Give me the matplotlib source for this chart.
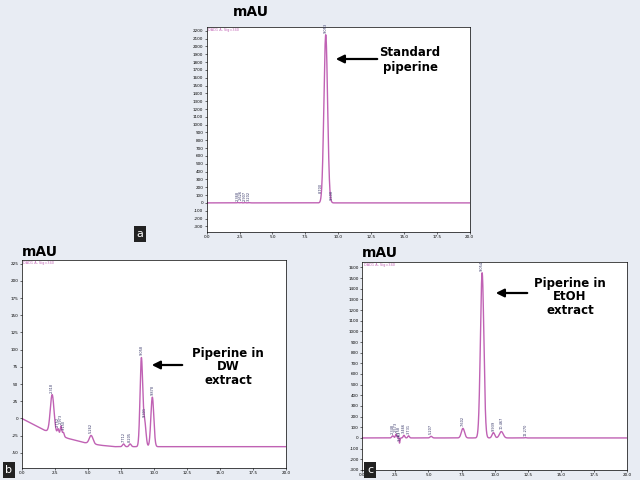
import numpy as np
import matplotlib.pyplot as plt

# peak tables: retention time (min), height (mAU), sigma (min)
a_rt = [2.35, 2.6, 2.9, 3.2, 8.7, 9.05, 9.5]
a_h = [4, 5, 4, 3, 2, 2150, 3]
a_sig = [0.05, 0.05, 0.05, 0.05, 0.05, 0.14, 0.05]
a_labels = ["2.368", "2.626", "2.907", "3.202", "8.700", "9.053", "9.508"]

b_rt = [2.3, 2.75, 2.97, 3.15, 5.25, 7.7, 8.2, 9.05, 9.3, 9.88]
b_h = [55, 8, 14, 6, 12, 4, 4, 128, 35, 72]
b_sig = [0.14, 0.06, 0.06, 0.06, 0.14, 0.08, 0.08, 0.1, 0.1, 0.11]
b_labels = ["2.318", "2.752", "2.973", "3.150", "5.262", "7.712", "8.205", "9.058", "9.301", "9.878"]
# baseline knots for the DW extract
b_base_t = [0.0, 1.7, 2.6, 3.5, 4.7, 6.0, 7.0, 20.0]
b_base_v = [0.0, -17, -22, -29, -35, -39, -41, -41]

c_rt = [2.3, 2.55, 2.75, 2.8, 3.15, 3.5, 5.2, 7.6, 9.05, 9.9, 10.5, 12.3]
c_h = [20, 35, 30, -60, 25, 20, 15, 90, 1550, 50, 60, 3]
c_sig = [0.07, 0.05, 0.04, 0.04, 0.06, 0.06, 0.08, 0.12, 0.13, 0.1, 0.14, 0.05]
c_labels = ["2.348", "2.573", "2.758", "3.153", "3.466", "3.731", "5.207", "7.602", "9.054", "9.939", "10.467", "12.270"]

t = np.linspace(0, 20, 4000)
line_col = "#c062b4"

def trace(rt, h, sig, base=None):
    y = np.zeros_like(t) if base is None else np.interp(t, *base)
    for r, hh, s in zip(rt, h, sig):
        y += hh * np.exp(-0.5 * ((t - r) / s) ** 2)
    return y

fig = plt.figure(figsize=(6.4, 4.8), dpi=100)
fig.patch.set_facecolor("#e8ecf3")

def panel(rect, y, ylim, yticks, rt, labels, letter, letter_pos, mau_pos, note, arrow):
    ax = fig.add_axes(rect)
    ax.plot(t, y, color=line_col, lw=1)
    ax.set_xlim(0, 20)
    ax.set_ylim(*ylim)
    ax.set_xticks(np.arange(0, 20.1, 2.5))
    ax.set_xticklabels([f"{v:.1f}" for v in np.arange(0, 20.1, 2.5)], fontsize=3)
    ax.set_yticks(yticks)
    ax.set_yticklabels([str(v) for v in yticks], fontsize=3)
    ax.tick_params(length=1.5, width=0.4, pad=1)
    for s in ax.spines.values():
        s.set_linewidth(0.5)
    ax.text(0.005, 0.995, "DAD1 A, Sig=340", transform=ax.transAxes, fontsize=2.5,
            color=line_col, va="top")
    for r, lab in zip(rt, labels):
        yv = np.interp(r, t, y)
        ax.text(r, yv + (ylim[1] - ylim[0]) * 0.01, lab, rotation=90, fontsize=2.5,
                ha="center", va="bottom", color="#333366")
    fig.text(*mau_pos, "mAU", fontsize=10, fontweight="bold", ha="left", va="center")
    fig.text(*letter_pos, letter, fontsize=8, color="white", ha="center", va="center",
             bbox=dict(boxstyle="square,pad=0.25", fc="#222222", ec="none"))
    (x0, y0), (x1, y1) = arrow
    fig.add_artist(plt.Annotation("", xy=(x0 / 640, 1 - y0 / 480), xytext=(x1 / 640, 1 - y1 / 480),
                                  xycoords="figure fraction",
                                  arrowprops=dict(arrowstyle="-|>", lw=1.6, color="black",
                                                  mutation_scale=12)))
    fig.text(note[1] / 640, 1 - note[2] / 480, note[0], fontsize=8.5, fontweight="bold",
             ha="center", va="center", linespacing=1.1)
    return ax

panel([0.323, 0.517, 0.411, 0.427], trace(a_rt, a_h, a_sig), (-370, 2250),
      list(range(-300, 2201, 100)), a_rt, a_labels, "a", (140 / 640, 1 - 234 / 480),
      (233 / 640, 1 - 12 / 480), ("Standard\npiperine", 410, 60), ((333, 59), (380, 59)))

panel([0.034, 0.025, 0.413, 0.433], trace(b_rt, b_h, b_sig, (b_base_t, b_base_v)), (-72, 230),
      list(range(-50, 226, 25)), b_rt, b_labels, "b", (9 / 640, 1 - 470 / 480),
      (22 / 640, 1 - 252 / 480), ("Piperine in\nDW\nextract", 228, 367), ((149, 365), (185, 365)))

panel([0.566, 0.021, 0.414, 0.433], trace(c_rt, c_h, c_sig), (-300, 1650),
      list(range(-300, 1601, 100)), c_rt, c_labels, "c", (370 / 640, 1 - 470 / 480),
      (362 / 640, 1 - 253 / 480), ("Piperine in\nEtOH\nextract", 570, 297), ((493, 293), (530, 293)))

fig.savefig("out.png", dpi=100, facecolor=fig.get_facecolor())
